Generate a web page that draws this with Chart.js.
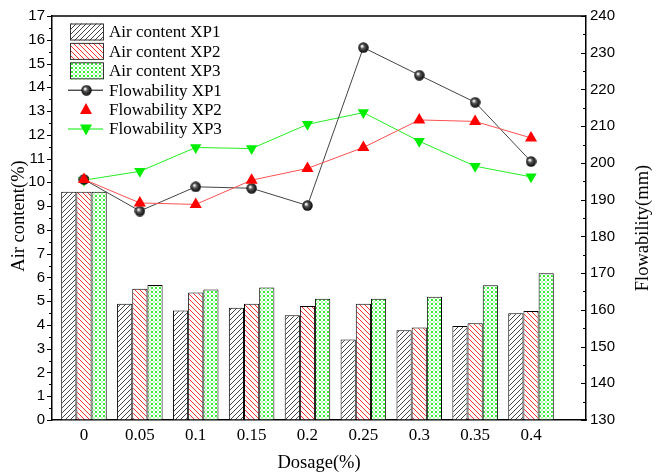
<!DOCTYPE html>
<html>
<head>
<meta charset="utf-8">
<script src="https://cdn.jsdelivr.net/npm/chart.js@4"></script>
<style>
  body { margin: 0; background: #fff; }
  #wrap { width: 659px; height: 475px; }
</style>
</head>
<body>
<div id="wrap"><canvas id="chart" width="659" height="475"></canvas></div>
<script>
// data
var dosage = [0, 0.05, 0.1, 0.15, 0.2, 0.25, 0.3, 0.35, 0.4];

var air_xp1 = [9.6, 4.89, 4.61, 4.72, 4.41, 3.39, 3.78, 3.96, 4.49];
var air_xp2 = [9.6, 5.52, 5.37, 4.89, 4.80, 4.89, 3.89, 4.07, 4.59];
var air_xp3 = [9.6, 5.68, 5.49, 5.58, 5.10, 5.10, 5.19, 5.67, 6.18];

var flow_xp1 = [195.5, 186.9, 193.5, 193.1, 188.4, 231.4, 223.9, 216.5, 200.4];
var flow_xp2 = [195.5, 189.1, 188.7, 195.3, 198.5, 204.2, 211.7, 211.3, 206.8];
var flow_xp3 = [195.3, 197.7, 204.2, 203.9, 210.5, 213.7, 205.9, 199.1, 196.2];

var legendLabels = ["Air content XP1", "Air content XP2", "Air content XP3",
                    "Flowability XP1", "Flowability XP2", "Flowability XP3"];

var serif = "'Liberation Serif', 'Times New Roman', serif";
var sans = "'Liberation Sans', Arial, sans-serif";

// hatch patterns for the bars
function makePattern(kind) {
    var c = document.createElement("canvas");
    var s = kind == "cross" ? 4 : 5;
    c.width = s; c.height = s;
    var g = c.getContext("2d");
    g.fillStyle = "#fff";
    g.fillRect(0, 0, s, s);
    g.lineWidth = 1;
    if (kind == "fwd") {
        g.strokeStyle = "#444";
        g.beginPath();
        g.moveTo(-1, s + 1); g.lineTo(s + 1, -1);
        g.moveTo(-1, 1); g.lineTo(1, -1);
        g.moveTo(s - 1, s + 1); g.lineTo(s + 1, s - 1);
        g.stroke();
    } else if (kind == "back") {
        g.strokeStyle = "#ff3030";
        g.beginPath();
        g.moveTo(-1, -1); g.lineTo(s + 1, s + 1);
        g.moveTo(s - 1, -1); g.lineTo(s + 1, 1);
        g.moveTo(-1, s - 1); g.lineTo(1, s + 1);
        g.stroke();
    } else {
        // green cross hatch with small white holes
        g.fillStyle = "#33ee33";
        g.fillRect(0, 0, s, s);
        g.fillStyle = "#ffffff";
        g.fillRect(1, 0, 2, 1);
        g.fillRect(0, 1, 1, 2);
        g.fillRect(3, 1, 1, 2);
        g.fillRect(1, 3, 2, 1);
        g.fillStyle = "#bff7bf";
        g.fillRect(1, 1, 2, 2);
    }
    var ctx = document.getElementById("chart").getContext("2d");
    return ctx.createPattern(c, "repeat");
}

// shaded ball marker
function makeBall(d) {
    var c = document.createElement("canvas");
    c.width = d; c.height = d;
    var g = c.getContext("2d");
    var r = d / 2;
    var grad = g.createRadialGradient(r - 1.5, r - 1.5, 0.5, r, r, r);
    grad.addColorStop(0, "#ffffff");
    grad.addColorStop(0.35, "#555");
    grad.addColorStop(1, "#000");
    g.fillStyle = grad;
    g.beginPath();
    g.arc(r, r, r - 0.3, 0, Math.PI * 2);
    g.fill();
    return c;
}

var pat1 = makePattern("fwd");
var pat2 = makePattern("back");
var pat3 = makePattern("cross");
var ball = makeBall(11);

function pts(arr) {
    return dosage.map(function (d, i) { return { x: d, y: arr[i] }; });
}

// ticks, frame, axis titles and legend
var decor = {
    id: "decor",
    afterDraw: function (chart) {
        var ctx = chart.ctx;
        var a = chart.chartArea;
        var y1 = chart.scales.y;
        var y2 = chart.scales.y2;
        ctx.save();
        ctx.strokeStyle = "#000";
        ctx.lineWidth = 1.5;
        ctx.beginPath();
        ctx.moveTo(a.left, a.top); ctx.lineTo(a.right, a.top);
        ctx.stroke();

        ctx.lineWidth = 1;
        ctx.beginPath();
        for (var v = 0; v <= 17; v += 0.5) {
            var py = Math.round(y1.getPixelForValue(v)) + 0.5;
            var len = (v % 1 == 0) ? 5 : 3;
            ctx.moveTo(a.left, py); ctx.lineTo(a.left - len, py);
        }
        for (var w = 130; w <= 240; w += 5) {
            var qy = Math.round(y2.getPixelForValue(w)) + 0.5;
            var l2 = (w % 10 == 0) ? 5 : 3;
            ctx.moveTo(a.right, qy); ctx.lineTo(a.right - l2, qy);
        }
        ctx.stroke();

        // axis titles
        ctx.fillStyle = "#000";
        ctx.font = "18.5px " + serif;
        ctx.textAlign = "center";
        ctx.textBaseline = "middle";
        ctx.fillText("Dosage(%)", 319, 463);
        ctx.save();
        ctx.translate(19, 216);
        ctx.rotate(-Math.PI / 2);
        ctx.fillText("Air content(%)", 0, 0);
        ctx.restore();
        ctx.save();
        ctx.translate(643, 228);
        ctx.rotate(-Math.PI / 2);
        ctx.fillText("Flowability(mm)", 0, 0);
        ctx.restore();

        // legend
        ctx.font = "17px " + serif;
        ctx.textAlign = "left";
        var pats = [pat1, pat2, pat3];
        for (var i = 0; i < 6; i++) {
            var cy = 32 + i * 19.4;
            if (i < 3) {
                ctx.fillStyle = pats[i];
                ctx.fillRect(70, cy - 8.5, 34, 17);
                ctx.strokeStyle = "#333";
                ctx.lineWidth = 1;
                ctx.strokeRect(70.5, cy - 8, 33, 16);
            } else if (i == 3) {
                ctx.strokeStyle = "#000";
                ctx.beginPath();
                ctx.moveTo(68, cy); ctx.lineTo(103, cy);
                ctx.stroke();
                ctx.drawImage(ball, 81, cy - 5.5);
            } else if (i == 4) {
                ctx.fillStyle = "#ff0000";
                ctx.beginPath();
                ctx.moveTo(86, cy - 6.5); ctx.lineTo(92, cy + 4.5); ctx.lineTo(80, cy + 4.5);
                ctx.closePath(); ctx.fill();
            } else {
                ctx.strokeStyle = "#00ee00";
                ctx.beginPath();
                ctx.moveTo(68, cy); ctx.lineTo(103, cy);
                ctx.stroke();
                ctx.fillStyle = "#00ee00";
                ctx.beginPath();
                ctx.moveTo(86, cy + 6.5); ctx.lineTo(92, cy - 4.5); ctx.lineTo(80, cy - 4.5);
                ctx.closePath(); ctx.fill();
            }
            ctx.fillStyle = "#000";
            ctx.fillText(legendLabels[i], 109, cy + 1);
        }
        ctx.restore();
    }
};

var barOpts = { borderColor: "#000", borderWidth: 1, categoryPercentage: 0.815, barPercentage: 1, order: 2, yAxisID: "y" };

var chart = new Chart(document.getElementById("chart"), {
    type: "bar",
    data: {
        datasets: [
            Object.assign({ label: legendLabels[0], data: pts(air_xp1), backgroundColor: pat1 }, barOpts),
            Object.assign({ label: legendLabels[1], data: pts(air_xp2), backgroundColor: pat2 }, barOpts),
            Object.assign({ label: legendLabels[2], data: pts(air_xp3), backgroundColor: pat3 }, barOpts),
            {
                type: "line", label: legendLabels[5], data: pts(flow_xp3), yAxisID: "y2", order: 1,
                borderColor: "#22ee22", borderWidth: 1, pointStyle: "triangle", pointRotation: 180,
                pointRadius: 6.5, backgroundColor: "#00ee00", pointBorderWidth: 0
            },
            {
                type: "line", label: legendLabels[4], data: pts(flow_xp2), yAxisID: "y2", order: 0,
                borderColor: "#ff5050", borderWidth: 1, pointStyle: "triangle",
                pointRadius: 7, backgroundColor: "#ff0000", pointBorderWidth: 0
            },
            {
                type: "line", label: legendLabels[3], data: pts(flow_xp1), yAxisID: "y2", order: 0,
                borderColor: "#444", borderWidth: 1, pointStyle: ball, pointRadius: 5.5
            }
        ]
    },
    options: {
        responsive: false,
        animation: false,
        layout: { padding: { top: 14, left: 0, right: 0, bottom: 0 } },
        plugins: { legend: { display: false }, tooltip: { enabled: false } },
        scales: {
            x: {
                type: "linear",
                offset: false,
                min: -0.0286,
                max: 0.4492,
                afterBuildTicks: function (scale) {
                    scale.ticks = dosage.map(function (d) { return { value: d }; });
                },
                afterFit: function (scale) { scale.height = 55; },
                grid: { display: false, drawTicks: false },
                border: { display: true, color: "#000", width: 1.5 },
                ticks: {
                    padding: 5, color: "#000", maxRotation: 0, autoSkip: false,
                    font: { family: serif, size: 17 },
                    callback: function (v) { return String(v); }
                }
            },
            y: {
                position: "left",
                min: 0, max: 17,
                afterFit: function (scale) { scale.width = 52; },
                grid: { drawOnChartArea: false, drawTicks: false },
                border: { display: true, color: "#000", width: 1.5 },
                ticks: { stepSize: 1, padding: 7, color: "#000", font: { family: sans, size: 15 } }
            },
            y2: {
                position: "right",
                min: 130, max: 240,
                afterFit: function (scale) { scale.width = 73; },
                grid: { drawOnChartArea: false, drawTicks: false },
                border: { display: true, color: "#000", width: 1.5 },
                ticks: { stepSize: 10, padding: 4, color: "#000", font: { family: sans, size: 15 } }
            }
        }
    },
    plugins: [decor]
});
</script>
</body>
</html>
